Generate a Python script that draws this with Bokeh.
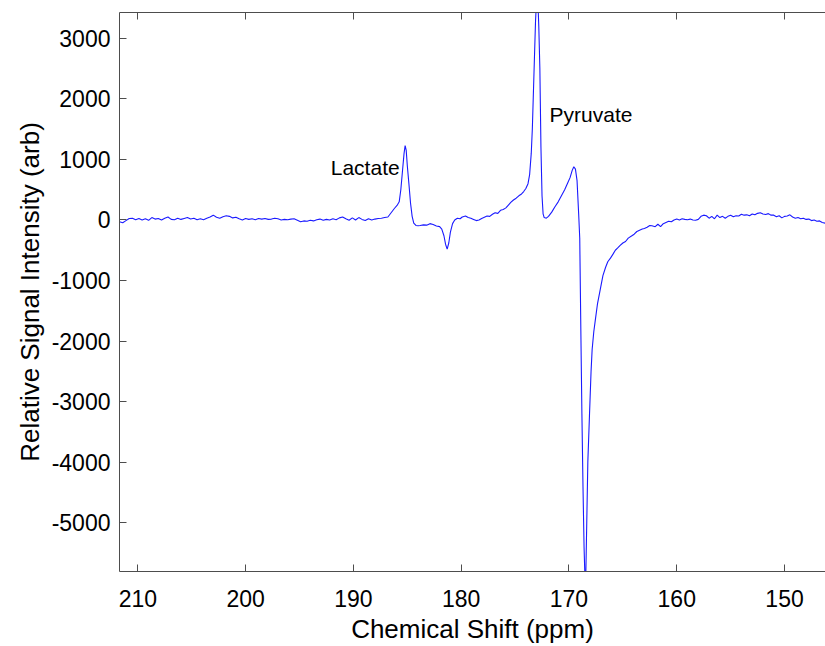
from bokeh.plotting import figure
from bokeh.models import (Range1d, LinearAxis, FixedTicker, ColumnDataSource, Label,
                          CustomLabelingPolicy)
from bokeh.embed import file_html
from bokeh.resources import INLINE

# Chemical shift (ppm) and relative signal intensity (arb)
ppm = [211.7, 211.4, 211.1, 210.8, 210.5, 210.2, 209.9, 209.6, 209.3, 209.0,
       208.7, 208.4, 208.1, 207.8, 207.5, 207.2, 206.9, 206.6, 206.3, 206.0,
       205.7, 205.4, 205.1, 204.8, 204.5, 204.2, 203.9, 203.6, 203.3, 203.0,
       202.7, 202.4, 202.1, 201.8, 201.5, 201.2, 200.9, 200.6, 200.3, 200.0,
       199.7, 199.4, 199.1, 198.8, 198.5, 198.2, 197.9, 197.6, 197.3, 197.0,
       196.7, 196.4, 196.1, 195.8, 195.5, 195.2, 194.9, 194.6, 194.3, 194.0,
       193.7, 193.4, 193.1, 192.8, 192.5, 192.2, 191.9, 191.6, 191.3, 191.0,
       190.7, 190.4, 190.1, 189.8, 189.5, 189.2, 188.9, 188.6, 188.3, 188.0,
       187.7, 187.4, 187.1, 186.8, 186.5, 186.2, 185.95, 185.75, 185.6, 185.45,
       185.3, 185.2, 185.1, 185.0, 184.85, 184.7, 184.55, 184.4, 184.2, 184.0,
       183.8, 183.5, 183.2, 182.9, 182.6, 182.3, 182.0, 181.8, 181.6, 181.45,
       181.3, 181.15, 181.0, 180.8, 180.6, 180.35, 180.1, 179.9, 179.6, 179.35,
       179.1, 178.85, 178.6, 178.35, 178.1, 177.85, 177.6, 177.35, 177.1, 176.85,
       176.6, 176.35, 176.1, 175.85, 175.6, 175.4, 175.15, 174.9, 174.65, 174.4,
       174.2, 174.0, 173.8, 173.65, 173.5, 173.4, 173.3, 173.2, 173.1, 173.0,
       172.9, 172.8, 172.7, 172.6, 172.5, 172.4, 172.3, 172.1, 171.9, 171.6,
       171.3, 171.0, 170.7, 170.4, 170.1, 169.9, 169.7, 169.55, 169.4, 169.25,
       169.1, 169.0, 168.9, 168.8, 168.7, 168.6, 168.47, 168.35, 168.25, 168.1,
       167.95, 167.85, 167.7, 167.55, 167.35, 167.1, 166.85, 166.6, 166.4, 166.15,
       165.9, 165.7, 165.5, 165.25, 165.0, 164.75, 164.5, 164.2, 163.95, 163.7,
       163.45, 163.2, 163.0, 162.75, 162.5, 162.3, 162.0, 161.75, 161.5, 161.25,
       161.0, 160.75, 160.5, 160.25, 160.0, 159.75, 159.5, 159.25, 159.0, 158.75,
       158.5, 158.25, 158.0, 157.75, 157.5, 157.25, 157.0, 156.75, 156.5, 156.25,
       156.0, 155.75, 155.5, 155.25, 155.0, 154.75, 154.5, 154.25, 154.0, 153.75,
       153.5, 153.25, 153.0, 152.75, 152.5, 152.25, 152.0, 151.75, 151.5, 151.25,
       151.0, 150.75, 150.5, 150.25, 150.0, 149.75, 149.5, 149.25, 149.0, 148.75,
       148.5, 148.25, 148.0, 147.75, 147.5, 147.25, 147.0, 146.75, 146.5, 146.2]

intensity = [-30, -45, -10, 25, 30, 5, 25, 0, 20, -5,
             40, 15, 25, 0, 30, 50, 10, 5, 30, 10,
             25, 40, 15, 30, 5, 20, 5, 30, 50, 80,
             45, 30, 55, 70, 60, 35, 45, 20, 0, 25,
             10, 20, 5, 25, 15, 25, 10, 15, 30, 20,
             0, 10, 5, 15, 20, -5, -30, -15, -20, -5,
             -15, 5, 15, -5, 10, 0, 20, 5, 35, 50,
             20, -5, 35, 0, 40, 10, -10, 20, 0, 15,
             25, 30, 40, 50, 120, 190, 240, 300, 500, 800,
             1100, 1230, 1150, 900, 600, 280, 60, -50, -90, -95,
             -90, -80, -85, -60, -75, -100, -110, -150, -260, -400,
             -480, -380, -200, -60, 0, 30, 20, 50, 65, 40,
             30, 10, -10, 0, 25, 45, 65, 60, 95, 120,
             110, 160, 175, 200, 250, 290, 330, 360, 400, 430,
             470, 520, 600, 750, 1100, 1500, 2100, 2700, 3300, 3650,
             3700, 3200, 2500, 1200, 400, 100, 40, 30, 60, 130,
             220, 300, 400, 500, 620, 700, 820, 880, 840, 650,
             100, -300, -1800, -3200, -4400, -5400, -6200, -5000, -4000, -3240,
             -2500, -2140, -1850, -1645, -1380, -1150, -920, -780, -690, -630,
             -560, -500, -465, -420, -380, -355, -300, -265, -235, -190,
             -170, -150, -140, -120, -90, -95, -110, -70, -110, -60,
             -40, -20, -30, 0, 15, 0, 20, 10, 5, 15,
             0, -5, 10, 60, 80, 70, 30, 60, 20, 80,
             40, 60, 30, 60, 80, 55, 70, 65, 95, 80,
             85, 70, 100, 85, 110, 120, 100, 90, 105, 80,
             80, 55, 70, 35, 60, 65, 85, 50, 30, 40,
             20, 30, 10, 15, -10, 0, -20, -15, -40, -55]

x_ticks = [150, 160, 170, 180, 190, 200, 210]
y_ticks = [-5000, -4000, -3000, -2000, -1000, 0, 1000, 2000, 3000]

peak_names = ["Lactate", "Pyruvate"]
peak_label_x = [192.1, 171.8]
peak_label_y = [860, 1750]

FONT = "Liberation Sans"
AXIS_COL = "#4d4d4d"

p = figure(width=825, height=646, output_backend="svg", toolbar_location=None,
           x_range=Range1d(211.7, 146.2), y_range=Range1d(-5807, 3428),
           x_axis_location="below", y_axis_location="left")
p.min_border_left = 119
p.min_border_right = 0
p.min_border_top = 12
p.min_border_bottom = 73
p.outline_line_color = None
p.xgrid.visible = False
p.ygrid.visible = False
p.background_fill_color = "white"
p.border_fill_color = "white"

src = ColumnDataSource(data=dict(x=ppm, y=intensity))
p.line("x", "y", source=src, line_color="#1a1aff", line_width=1.1)

for ax, ticks in ((p.xaxis[0], x_ticks), (p.yaxis[0], y_ticks)):
    ax.ticker = FixedTicker(ticks=ticks)
    ax.minor_tick_line_color = None
    ax.major_tick_in = 7
    ax.major_tick_out = 0
    ax.axis_line_color = AXIS_COL
    ax.major_tick_line_color = AXIS_COL
    ax.major_label_text_font = FONT
    ax.major_label_text_font_size = "23px"
    ax.major_label_text_color = "black"
    ax.axis_label_text_font = FONT
    ax.axis_label_text_font_size = "26px"
    ax.axis_label_text_font_style = "normal"
    ax.axis_label_text_color = "black"

p.yaxis.major_label_overrides = {v: str(v) for v in y_ticks}
p.xaxis.major_label_overrides = {v: str(v) for v in x_ticks}
p.xaxis.axis_label = "Chemical Shift (ppm)"
p.yaxis.axis_label = "Relative Signal Intensity (arb)"
p.xaxis.major_label_standoff = 18
p.xaxis.axis_label_standoff = 4
p.yaxis.major_label_standoff = 9
p.yaxis.axis_label_standoff = 4

top = LinearAxis(ticker=FixedTicker(ticks=x_ticks))
top.minor_tick_line_color = None
top.major_tick_in = 7
top.major_tick_out = 0
top.axis_line_color = AXIS_COL
top.major_tick_line_color = AXIS_COL
top.major_label_text_font_size = "1px"
top.major_label_standoff = 0
top.major_label_policy = CustomLabelingPolicy(
    code="for (const i of indices) { indices.unset(i) }\nreturn indices")
p.add_layout(top, "above")

for name, lx, ly in zip(peak_names, peak_label_x, peak_label_y):
    p.add_layout(Label(x=lx, y=ly, text=name, text_font=FONT, text_font_size="21px",
                       text_color="black", text_baseline="alphabetic", text_align="left"))

open("out.html", "w").write(file_html(p, INLINE))
